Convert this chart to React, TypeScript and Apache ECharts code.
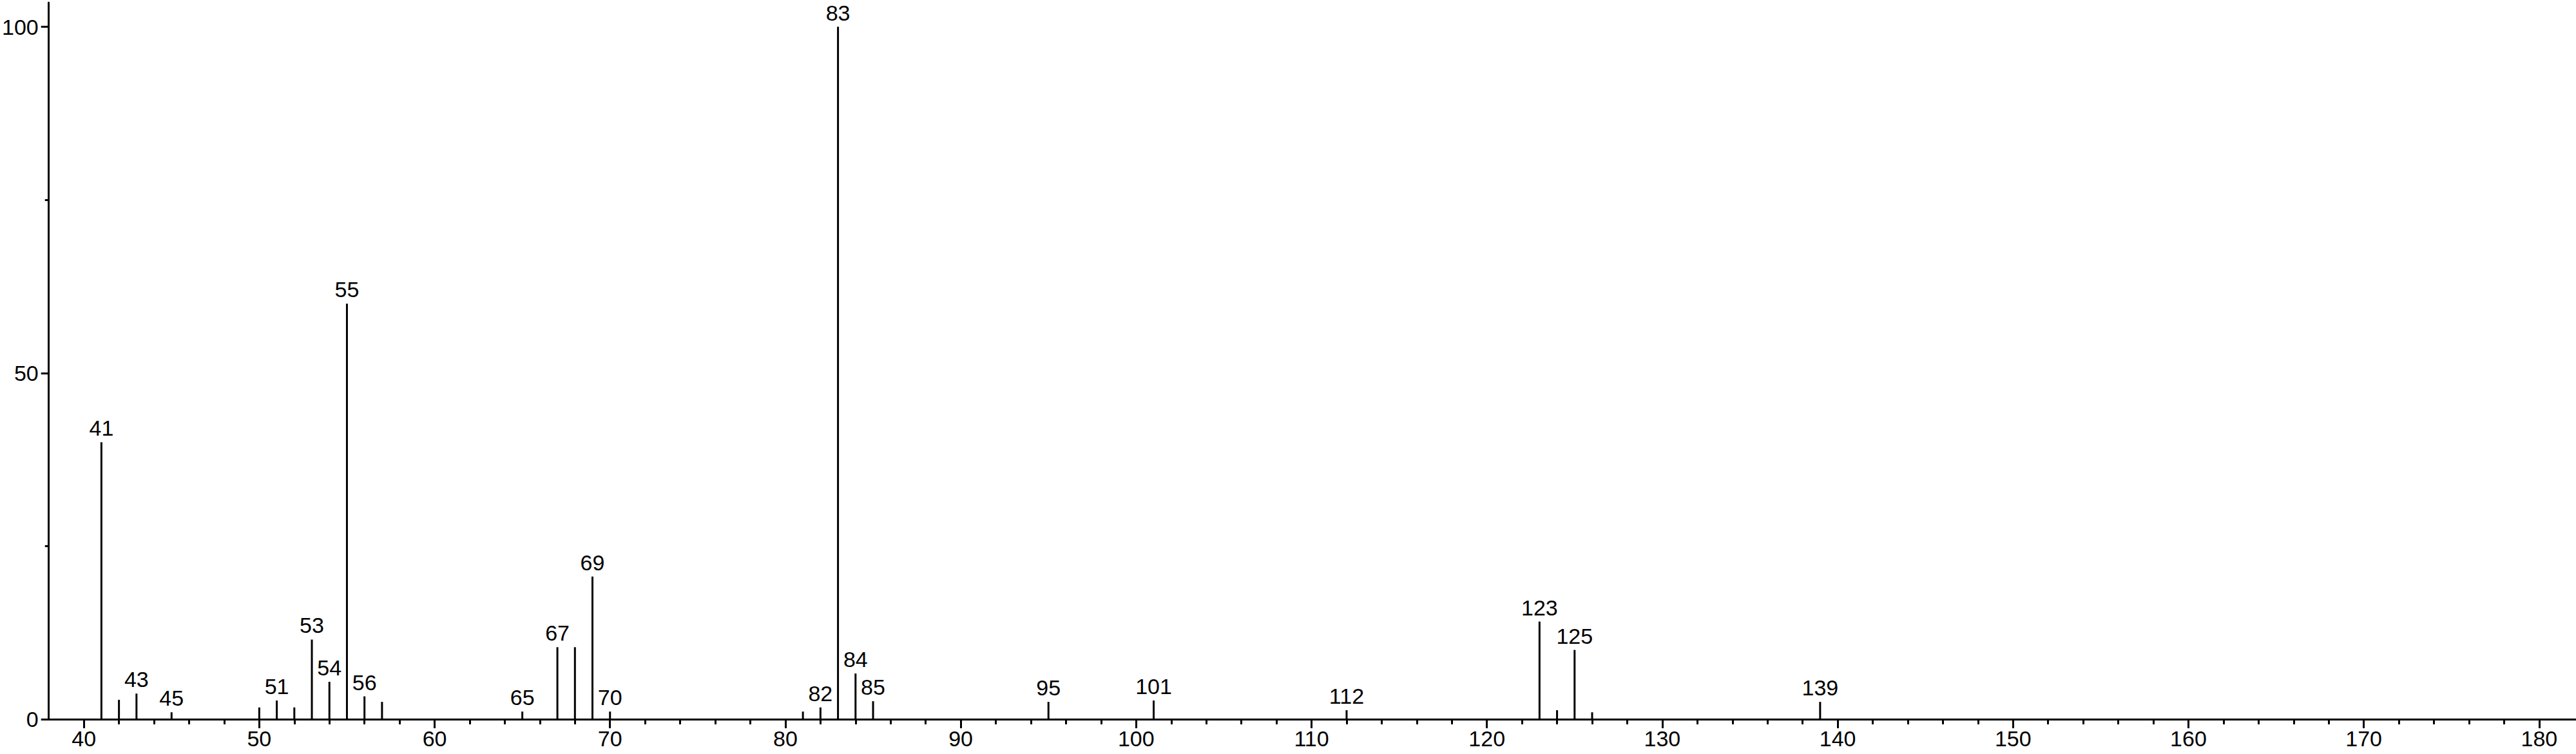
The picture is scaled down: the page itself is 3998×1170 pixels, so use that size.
import React, { useEffect, useRef } from "react";
import * as echarts from "echarts";

const mzValues = [41, 42, 43, 45, 50, 51, 52, 53, 54, 55, 56, 57, 65, 67, 68, 69, 70, 81, 82, 83, 84, 85, 95, 101, 112, 123, 124, 125, 126, 139];
const intensities = [40, 2.8, 3.7, 1.0, 1.7, 2.7, 1.7, 11.5, 5.4, 60, 3.3, 2.5, 1.1, 10.4, 10.4, 20.6, 1.1, 1.1, 1.7, 100, 6.6, 2.6, 2.5, 2.7, 1.3, 14.1, 1.3, 10.0, 1.0, 2.5];
const labeledPeaks = [41, 43, 45, 51, 53, 54, 55, 56, 65, 67, 69, 70, 82, 83, 84, 85, 95, 101, 112, 123, 125, 139];

const xMajorTicks = [40, 50, 60, 70, 80, 90, 100, 110, 120, 130, 140, 150, 160, 170, 180];
const xMinorTicks: number[] = [];
for (let v = 40; v <= 180; v += 2) xMinorTicks.push(v);
const yMajorTicks = [0, 50, 100];
const yMinorTicks = [0, 25, 50, 75, 100];

const X_MIN = 38;
const X_MAX = 182.1;
const Y_MAX = 103.5;

const FONT = "'Liberation Sans', Arial, Helvetica, sans-serif";

export default function App() {
  const ref = useRef<HTMLDivElement>(null);

  useEffect(() => {
    document.body.style.margin = "0";
    if (!ref.current) return;
    const chart = echarts.init(ref.current, null, { renderer: "svg" });
    const data = mzValues.map((m, i) => ({
      value: [m, intensities[i]],
      label: { show: labeledPeaks.includes(m) },
    }));
    const axisLineStyle = { color: "#000", width: 3 };
    chart.setOption({
      animation: false,
      backgroundColor: "#fff",
      grid: { left: 70, right: 0, top: 4, bottom: 54, containLabel: false },
      xAxis: [
        {
          type: "value",
          min: X_MIN,
          max: X_MAX,
          position: "bottom",
          axisLine: { show: true, onZero: false, lineStyle: axisLineStyle },
          axisTick: { show: true, customValues: xMinorTicks, length: 8, lineStyle: { color: "#000", width: 3 } },
          axisLabel: {
            show: true,
            customValues: xMajorTicks,
            margin: 13,
            color: "#000",
            fontSize: 34,
            fontFamily: FONT,
          },
          splitLine: { show: false },
        },
        {
          type: "value",
          min: X_MIN,
          max: X_MAX,
          position: "bottom",
          axisLine: { show: false },
          axisTick: { show: true, customValues: xMajorTicks, length: 14, lineStyle: { color: "#000", width: 3 } },
          axisLabel: { show: false },
          splitLine: { show: false },
        },
      ],
      yAxis: [
        {
          type: "value",
          min: 0,
          max: Y_MAX,
          position: "left",
          axisLine: { show: true, onZero: false, lineStyle: axisLineStyle },
          axisTick: { show: true, customValues: yMinorTicks, length: 6, lineStyle: { color: "#000", width: 3 } },
          axisLabel: {
            show: true,
            customValues: yMajorTicks,
            margin: 16,
            color: "#000",
            fontSize: 34,
            fontFamily: FONT,
          },
          splitLine: { show: false },
        },
        {
          type: "value",
          min: 0,
          max: Y_MAX,
          position: "left",
          axisLine: { show: false },
          axisTick: { show: true, customValues: yMajorTicks, length: 12, lineStyle: { color: "#000", width: 3 } },
          axisLabel: { show: false },
          splitLine: { show: false },
        },
      ],
      series: [
        {
          type: "bar",
          xAxisIndex: 0,
          yAxisIndex: 0,
          barWidth: 3,
          itemStyle: { color: "#000" },
          label: {
            show: false,
            position: "top",
            distance: 5,
            color: "#000",
            fontSize: 34,
            fontFamily: FONT,
            formatter: (p: any) => String(p.value[0]),
          },
          data,
        },
      ],
    });
    return () => chart.dispose();
  }, []);

  return (
    <div
      ref={ref}
      style={{ position: "absolute", left: 0, top: 0, width: 3998, height: 1170, background: "#fff" }}
    />
  );
}
